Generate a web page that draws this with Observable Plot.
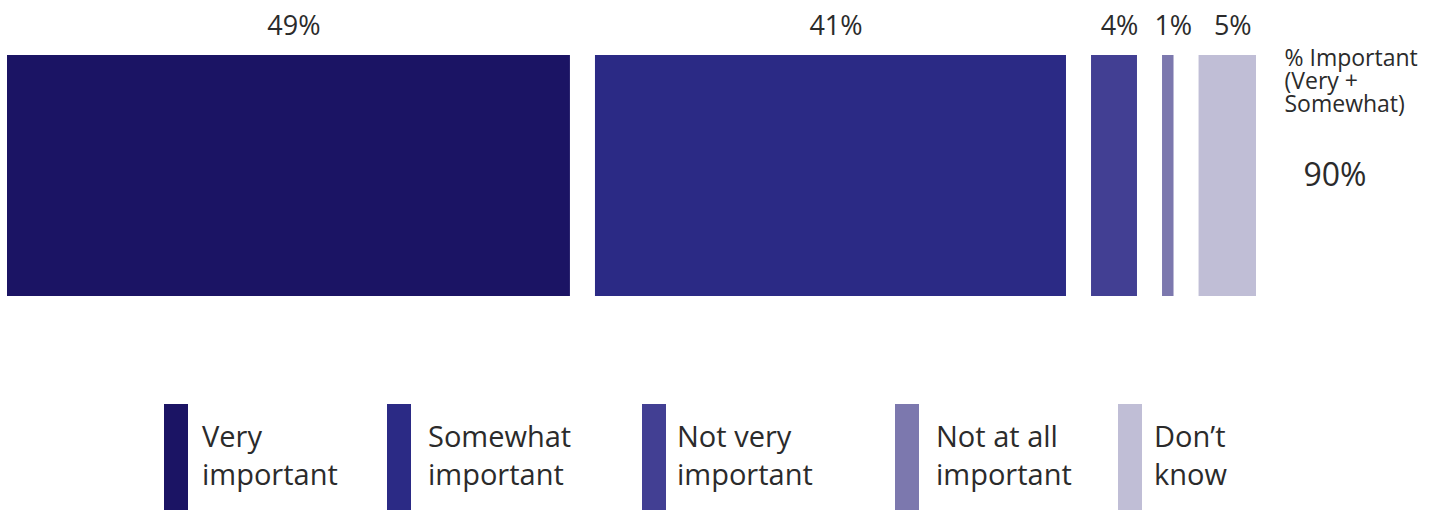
<!DOCTYPE html>
<html><head><meta charset="utf-8">
<script src="https://cdn.jsdelivr.net/npm/d3@7"></script>
<script src="https://cdn.jsdelivr.net/npm/@observablehq/plot@0.6"></script>
<style>
body{margin:0;background:#fff;font-family:"Open Sans",sans-serif;color:#2b2b2b}
#chart{width:1445px;height:340px}
#legend{position:relative;width:1445px;height:170px;overflow:hidden}
.item{position:absolute;top:64px;height:106px}
.sw{position:absolute;left:0;top:0;width:24px;height:106px}
.lb{position:absolute;top:13px;font-size:29px;line-height:38px;white-space:pre;color:#2b2b2b}
</style></head><body><div id="chart"></div><div id="legend"></div>
<script>
const categories = ["Very important", "Somewhat important", "Not very important", "Not at all important", "Don’t know"];
const values = [49, 41, 4, 1, 5];
const colors = ["#1b1464", "#2b2a85", "#423f93", "#7c78ae", "#c0bed6"];
const legendLabels = ["Very\nimportant", "Somewhat\nimportant", "Not very\nimportant", "Not at all\nimportant", "Don’t\nknow"];
const summaryLabel = "% Important\n(Very +\nSomewhat)";

// layout (not data)
const gap = 2.18;
const legendLeft = [164, 387, 642, 895, 1118];
const legendTextOffset = [38, 41, 35, 41, 36];

let cum = 0;
const rows = categories.map((c, i) => {
  const x1 = cum + i * gap;
  cum += values[i];
  return {category: c, value: values[i], x1, x2: x1 + values[i]};
});
const total = cum + (categories.length - 1) * gap;
const important = values[0] + values[1];

const chart = Plot.plot({
  width: 1445, height: 340,
  marginLeft: 7, marginRight: 189, marginTop: 55, marginBottom: 44,
  style: {fontFamily: "Open Sans, sans-serif", color: "#2b2b2b", background: "#fff"},
  x: {domain: [0, total], axis: null},
  color: {domain: categories, range: colors},
  marks: [
    Plot.rectX(rows, {x1: "x1", x2: "x2", fill: "category"}),
    Plot.text(rows, {x: d => (d.x1 + d.x2) / 2, frameAnchor: "top", lineAnchor: "middle", dx: 5, dy: -29.5, text: d => d.value + "%", fontSize: 27, fill: "#2b2b2b"}),
    Plot.text([summaryLabel], {x: () => total, frameAnchor: "top", lineAnchor: "middle", dx: 28, dy: 26, textAnchor: "start", text: d => d, fontSize: 23, lineHeight: 1.0, fill: "#2b2b2b"}),
    Plot.text([important], {x: () => total, frameAnchor: "top", lineAnchor: "middle", dx: 47, dy: 120, textAnchor: "start", text: d => d + "%", fontSize: 32, fill: "#2b2b2b"})
  ]
});
document.getElementById("chart").appendChild(chart);

const legend = document.getElementById("legend");
categories.forEach((c, i) => {
  const item = document.createElement("div");
  item.className = "item";
  item.style.left = legendLeft[i] + "px";
  const sw = document.createElement("div");
  sw.className = "sw";
  sw.style.background = colors[i];
  const lb = document.createElement("div");
  lb.className = "lb";
  lb.style.left = legendTextOffset[i] + "px";
  lb.textContent = legendLabels[i];
  item.appendChild(sw);
  item.appendChild(lb);
  legend.appendChild(item);
});
</script></body></html>
